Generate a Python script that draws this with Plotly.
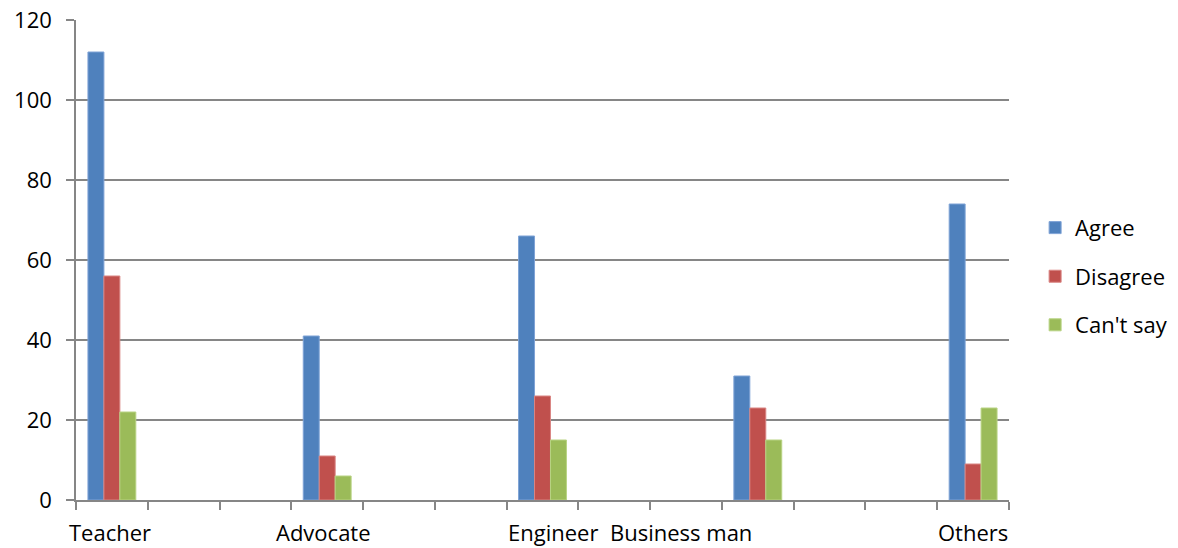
import plotly.graph_objects as go

categories = ["Teacher", " ", "  ", "Advocate", "   ", "    ", "Engineer",
              "     ", "      ", "Business man", "       ", "        ", "Others"]
agree = [112, None, None, 41, None, None, 66, None, None, 31, None, None, 74]
disagree = [56, None, None, 11, None, None, 26, None, None, 23, None, None, 9]
cant_say = [22, None, None, 6, None, None, 15, None, None, 15, None, None, 23]
series_names = ["Agree", "Disagree", "Can't say"]
colors = ["#4F81BD", "#C0504D", "#9BBB59"]
edge = ["#7FA3D6", "#D98583", "#B8D383"]
label_shift = {"Teacher": -2, "Advocate": -4, "Engineer": 10, "Business man": -77, "Others": 0}

FONT = "Open Sans"
fig = go.Figure()
for name, vals, c, e in zip(series_names, [agree, disagree, cant_say], colors, edge):
    fig.add_trace(go.Bar(x=categories, y=vals, name=name, legendgroup=name,
                         marker=dict(color=c, line=dict(color=e, width=1))))

for cat, dx in label_shift.items():
    fig.add_annotation(x=cat, y=0, xref="x", yref="paper", yanchor="middle",
                       yshift=-32, xshift=dx, text=cat, showarrow=False,
                       borderpad=0,
                       font=dict(family=FONT, size=22, color="#000000"))

fig.update_layout(
    width=1178, height=548,
    margin=dict(l=76, r=169, t=20, b=48, autoexpand=False),
    plot_bgcolor="white", paper_bgcolor="white",
    barmode="group", bargap=0.333, bargroupgap=0,
    font=dict(family=FONT, size=22, color="#000000"),
    showlegend=True,
    legend=dict(x=1.028, y=0.466, xanchor="left", yanchor="middle",
                tracegroupgap=17, font=dict(family=FONT, size=22),
                itemwidth=30),
    xaxis=dict(type="category", categoryorder="array", categoryarray=categories,
               showticklabels=False, tickson="boundaries", ticks="outside",
               ticklen=8, tickcolor="#868686", tickwidth=1.5,
               showline=True, linecolor="#868686", linewidth=1.5,
               showgrid=False, range=[-0.5, 12.5]),
    yaxis=dict(range=[0, 120], dtick=20, showgrid=True, gridcolor="#868686",
               gridwidth=1.5, ticks="outside", ticklen=8, tickcolor="#868686",
               tickwidth=1.5, showline=True, linecolor="#868686", linewidth=1.5,
               zeroline=False, ticklabelstandoff=10,
               tickfont=dict(family=FONT, size=22)),
)
fig.write_html("out.html")
